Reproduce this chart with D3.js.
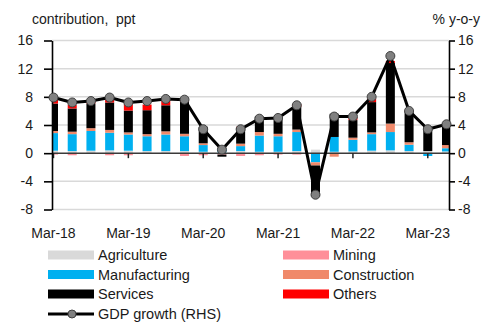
<!DOCTYPE html>
<html>
<head>
<meta charset="utf-8">
<script src="https://cdn.jsdelivr.net/npm/d3@7"></script>
<style>
    body { margin: 0; background: #fff; }
    svg text { font-family: Arial, "Liberation Sans", sans-serif; fill: #1a1a1a; }
</style>
</head>
<body>
<div id="chart"></div>
<script>
// quarters on the x axis
let quarters = ["Mar-18", "Jun-18", "Sep-18", "Dec-18",
                "Mar-19", "Jun-19", "Sep-19", "Dec-19",
                "Mar-20", "Jun-20", "Sep-20", "Dec-20",
                "Mar-21", "Jun-21", "Sep-21", "Dec-21",
                "Mar-22", "Jun-22", "Sep-22", "Dec-22",
                "Mar-23", "Jun-23"];

// contributions to growth, ppt
let agriculture   = [0.35, 0.3, 0.35, 0.4, 0.35, 0.3, 0.3, 0.3, 0.2, 0.1, 0.3, 0.2, 0.2, 0.3, 0.5, 0.2, 0.25, 0.35, 0.4, 0.3, 0.3, 0.25];
let mining        = [-0.2, -0.3, -0.1, -0.3, -0.3, -0.1, -0.1, -0.4, -0.3, -0.2, -0.4, -0.3, -0.2, -0.2, -0.1, 0, 0, -0.1, -0.1, 0, 0, 0];
let manufacturing = [2.5, 2.4, 2.8, 2.5, 2.3, 2.1, 2.35, 2.1, 0.95, 0.6, 0.7, 2.3, 2.2, 2.7, -1.2, 2.1, 1.65, 2.35, 2.6, 0.9, -0.4, 0.45];
let construction  = [0.3, 0.35, 0.4, 0.4, 0.3, 0.3, 0.45, 0.35, 0.25, 0.1, 0.35, 0.5, 0.35, 0.35, -0.45, -0.5, 0.3, 0.25, 1.2, 0.35, 0, 0.45];
let services      = [3.9, 3.3, 3.5, 3.9, 3.1, 3.4, 3.7, 4.6, 2.35, -0.3, 2.3, 2.2, 2.4, 3.2, -4.4, 3.3, 2.5, 4.3, 8.6, 4.4, 3.5, 3.1];
let others        = [0.7, 0.5, 0.3, 0.6, 0.9, 0.8, 0.7, 0.1, 0, 0, 0.1, 0, 0, 0.4, 0, 0, 0.4, 0.5, 0.3, 0.1, 0, 0];

// real GDP growth, % y-o-y (right axis)
let gdpGrowth = [7.9, 7.2, 7.4, 7.9, 7.2, 7.4, 7.7, 7.6, 3.4, 0.5, 3.4, 4.9, 5.0, 6.8, -5.9, 5.2, 5.2, 8.0, 13.8, 6.0, 3.4, 4.1];

let yTicks = [-8, -4, 0, 4, 8, 12, 16];
let xTickLabels = ["Mar-18", "Mar-19", "Mar-20", "Mar-21", "Mar-22", "Mar-23"];

let sectors = [
    { key: "Agriculture",   values: agriculture,   color: "#d9d9d9" },
    { key: "Mining",        values: mining,        color: "#ff8f99" },
    { key: "Manufacturing", values: manufacturing, color: "#00b0f0" },
    { key: "Construction",  values: construction,  color: "#f0896a" },
    { key: "Services",      values: services,      color: "#000000" },
    { key: "Others",        values: others,        color: "#ff0000" }
];

let width = 495;
let height = 329;

let plotLeft = 52;
let plotRight = 449;

let svg = d3.select("#chart")
    .append("svg")
    .attr("width", width)
    .attr("height", height);

let xScale = d3.scalePoint()
    .domain(quarters)
    .range([53.5, 446.5]);

let yScale = d3.scaleLinear()
    .domain([-8, 16])
    .range([209.5, 40.5]);

// rows for the stack, one per quarter
let rows = quarters.map((q, i) => {
    let row = { quarter: q };
    sectors.forEach(s => { row[s.key] = s.values[i]; });
    return row;
});

let stacked = d3.stack()
    .keys(sectors.map(s => s.key))
    .offset(d3.stackOffsetDiverging)(rows);

// horizontal gridlines
svg.append("g")
    .selectAll("line")
    .data(yTicks.filter(t => t !== 0))
    .enter()
    .append("line")
    .attr("x1", plotLeft)
    .attr("x2", plotRight)
    .attr("y1", d => yScale(d))
    .attr("y2", d => yScale(d))
    .attr("stroke", "#d9d9d9")
    .attr("stroke-width", 1.5);

// keep bars inside the axes
svg.append("clipPath")
    .attr("id", "plot-clip")
    .append("rect")
    .attr("x", plotLeft)
    .attr("y", 0)
    .attr("width", plotRight - plotLeft)
    .attr("height", height);

let barWidth = 9;

let barGroup = svg.append("g").attr("clip-path", "url(#plot-clip)");

barGroup.selectAll("g")
    .data(stacked)
    .enter()
    .append("g")
    .attr("fill", (d, i) => sectors[i].color)
    .selectAll("rect")
    .data(d => d)
    .enter()
    .append("rect")
    .attr("x", d => xScale(d.data.quarter) - barWidth / 2)
    .attr("width", barWidth)
    .attr("y", d => yScale(Math.max(d[0], d[1])))
    .attr("height", d => Math.abs(yScale(d[0]) - yScale(d[1])));

// zero line with quarterly ticks at each March
svg.append("line")
    .attr("x1", plotLeft)
    .attr("x2", plotRight)
    .attr("y1", yScale(0))
    .attr("y2", yScale(0))
    .attr("stroke", "#3a3a3a")
    .attr("stroke-width", 1.5);

svg.append("g")
    .selectAll("line")
    .data(xTickLabels)
    .enter()
    .append("line")
    .attr("x1", d => xScale(d))
    .attr("x2", d => xScale(d))
    .attr("y1", yScale(0))
    .attr("y2", yScale(0) + 5)
    .attr("stroke", "#222")
    .attr("stroke-width", 1.5);

// left and right axes, plain hyphen for negatives
let leftAxis = d3.axisLeft(yScale)
    .tickValues(yTicks)
    .tickFormat(d => String(d))
    .tickSize(8)
    .tickSizeOuter(0)
    .tickPadding(11);

let rightAxis = d3.axisRight(yScale)
    .tickValues(yTicks)
    .tickFormat(d => String(d))
    .tickSize(6)
    .tickSizeOuter(0)
    .tickPadding(3);

let leftG = svg.append("g")
    .attr("transform", `translate(${plotLeft}, 0)`)
    .call(leftAxis);

let rightG = svg.append("g")
    .attr("transform", `translate(${plotRight}, 0)`)
    .call(rightAxis);

[leftG, rightG].forEach(g => {
    g.select(".domain").attr("stroke", "#000").attr("stroke-width", 1.6);
    g.selectAll(".tick line").attr("stroke", "#000").attr("stroke-width", 1.6);
    g.selectAll(".tick text")
        .attr("font-size", "14px")
        .attr("fill", "#1a1a1a")
        .style("font-family", "Arial, 'Liberation Sans', sans-serif");
});

// x labels
svg.append("g")
    .selectAll("text")
    .data(xTickLabels)
    .enter()
    .append("text")
    .attr("x", d => xScale(d))
    .attr("y", 238)
    .attr("text-anchor", "middle")
    .attr("font-size", "14px")
    .text(d => d);

// axis titles
svg.append("text")
    .attr("x", 32)
    .attr("y", 24)
    .attr("font-size", "14px")
    .style("white-space", "pre")
    .text("contribution,  ppt");

svg.append("text")
    .attr("x", 480)
    .attr("y", 24)
    .attr("text-anchor", "end")
    .attr("font-size", "14px")
    .text("% y-o-y");

// GDP growth line with markers
let line = d3.line()
    .x((d, i) => xScale(quarters[i]))
    .y(d => yScale(d));

svg.append("path")
    .datum(gdpGrowth)
    .attr("d", line)
    .attr("fill", "none")
    .attr("stroke", "#000")
    .attr("stroke-width", 3)
    .attr("stroke-linejoin", "round");

svg.append("g")
    .selectAll("circle")
    .data(gdpGrowth)
    .enter()
    .append("circle")
    .attr("cx", (d, i) => xScale(quarters[i]))
    .attr("cy", d => yScale(d))
    .attr("r", 4.5)
    .attr("fill", "#808080")
    .attr("stroke", "#404040")
    .attr("stroke-width", 1);

// legend
let legendRows = [255, 274.5, 294];
let legendCols = [{ swatch: 48, text: 98 }, { swatch: 283, text: 333 }];
let legendOrder = [
    ["Agriculture", 0, 0], ["Mining", 1, 0],
    ["Manufacturing", 0, 1], ["Construction", 1, 1],
    ["Services", 0, 2], ["Others", 1, 2]
];

let legend = svg.append("g");

legendOrder.forEach(([name, col, row]) => {
    let s = sectors.find(d => d.key === name);
    legend.append("rect")
        .attr("x", legendCols[col].swatch)
        .attr("y", legendRows[row] - 4.5)
        .attr("width", 46)
        .attr("height", 9)
        .attr("fill", s.color);
    legend.append("text")
        .attr("x", legendCols[col].text)
        .attr("y", legendRows[row] + 5)
        .attr("font-size", "14.5px")
        .text(name);
});

legend.append("line")
    .attr("x1", 48)
    .attr("x2", 94)
    .attr("y1", 314)
    .attr("y2", 314)
    .attr("stroke", "#000")
    .attr("stroke-width", 3);

legend.append("circle")
    .attr("cx", 72)
    .attr("cy", 314)
    .attr("r", 4)
    .attr("fill", "#808080")
    .attr("stroke", "#404040")
    .attr("stroke-width", 1);

legend.append("text")
    .attr("x", 98)
    .attr("y", 319)
    .attr("font-size", "14.5px")
    .text("GDP growth (RHS)");
</script>
</body>
</html>
